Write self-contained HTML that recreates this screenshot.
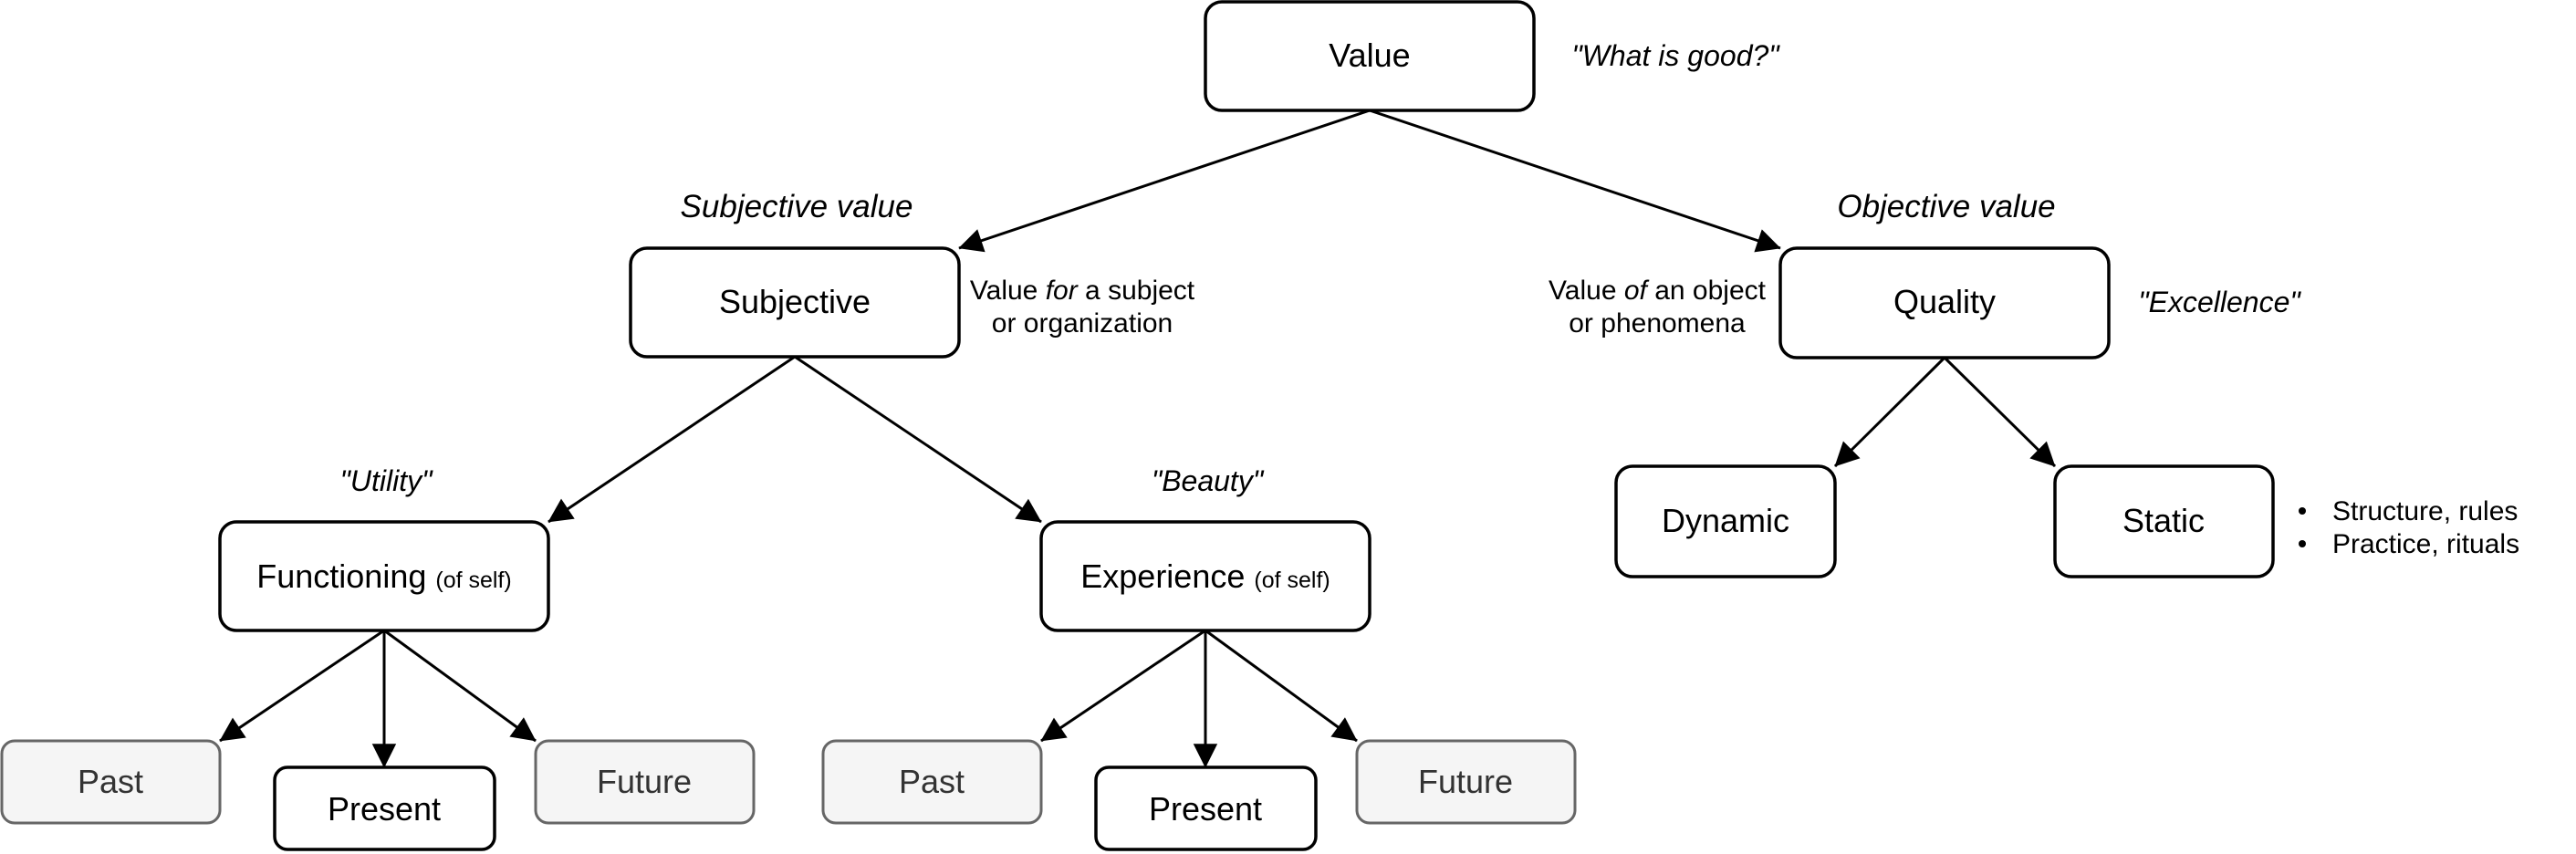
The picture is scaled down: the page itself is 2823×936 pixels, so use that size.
<!DOCTYPE html>
<html><head><meta charset="utf-8"><style>
html,body{margin:0;padding:0;background:#fff;}
svg{display:block;}
text{font-family:"Liberation Sans",Arial,sans-serif;}
</style></head><body>
<svg width="2823" height="936" viewBox="0 0 2823 936" xmlns="http://www.w3.org/2000/svg">
<defs>
<marker id="a" viewBox="0 0 10 10" refX="9" refY="5" markerWidth="11" markerHeight="11" markerUnits="userSpaceOnUse" orient="auto" overflow="visible">
<path d="M0,0 L10,5 L0,10 z" fill="#000" transform="scale(2.4) translate(-6,-2.9)"/>
</marker>
</defs>
<g stroke="#000" stroke-width="3" fill="none">
<line x1="1501" y1="121" x2="1051" y2="272" marker-end="url(#a)"/>
<line x1="1501" y1="121" x2="1951" y2="272" marker-end="url(#a)"/>
<line x1="871" y1="391" x2="601" y2="572" marker-end="url(#a)"/>
<line x1="871" y1="391" x2="1141" y2="572" marker-end="url(#a)"/>
<line x1="2131" y1="392" x2="2011" y2="511" marker-end="url(#a)"/>
<line x1="2131" y1="392" x2="2252" y2="511" marker-end="url(#a)"/>
<line x1="421" y1="691" x2="241" y2="812" marker-end="url(#a)"/>
<line x1="421" y1="691" x2="421" y2="841" marker-end="url(#a)"/>
<line x1="421" y1="691" x2="587" y2="812" marker-end="url(#a)"/>
<line x1="1321" y1="691" x2="1141" y2="812" marker-end="url(#a)"/>
<line x1="1321" y1="691" x2="1321" y2="841" marker-end="url(#a)"/>
<line x1="1321" y1="691" x2="1487" y2="812" marker-end="url(#a)"/>
</g>
<g stroke="#000" stroke-width="3.5" fill="#fff">
<rect x="1321" y="2" width="360" height="119" rx="18"/>
<rect x="691" y="272" width="360" height="119" rx="18"/>
<rect x="1951" y="272" width="360" height="120" rx="18"/>
<rect x="241" y="572" width="360" height="119" rx="18"/>
<rect x="1141" y="572" width="360" height="119" rx="18"/>
<rect x="1771" y="511" width="240" height="121" rx="18"/>
<rect x="2252" y="511" width="239" height="121" rx="18"/>
<rect x="301" y="841" width="241" height="90" rx="14"/>
<rect x="1201" y="841" width="241" height="90" rx="14"/>
</g>
<g stroke="#666" stroke-width="3" fill="#f5f5f5">
<rect x="2" y="812" width="239" height="90" rx="14"/>
<rect x="587" y="812" width="239" height="90" rx="14"/>
<rect x="902" y="812" width="239" height="90" rx="14"/>
<rect x="1487" y="812" width="239" height="90" rx="14"/>
</g>
<g font-size="36" text-anchor="middle" fill="#000">
<text x="1501" y="73">Value</text>
<text x="871" y="343">Subjective</text>
<text x="2131" y="343">Quality</text>
<text x="421" y="644">Functioning <tspan font-size="25">(of self)</tspan></text>
<text x="1321" y="644">Experience <tspan font-size="25">(of self)</tspan></text>
<text x="1891" y="583">Dynamic</text>
<text x="2371" y="583">Static</text>
<text x="421" y="899">Present</text>
<text x="1321" y="899">Present</text>
</g>
<g font-size="36" text-anchor="middle" fill="#333">
<text x="121" y="869">Past</text>
<text x="706" y="869">Future</text>
<text x="1021" y="869">Past</text>
<text x="1606" y="869">Future</text>
</g>
<g font-size="35" text-anchor="middle" font-style="italic" fill="#000">
<text x="873" y="238">Subjective value</text>
<text x="2133" y="238">Objective value</text>
</g>
<g font-size="32" font-style="italic" fill="#000" text-anchor="middle">
<text x="1836" y="72">"What is good?"</text>
<text x="2432" y="342">"Excellence"</text>
<text x="423" y="538">"Utility"</text>
<text x="1323" y="538">"Beauty"</text>
</g>
<g font-size="30" fill="#000" text-anchor="middle">
<text x="1186" y="328">Value <tspan font-style="italic">for</tspan> a subject</text>
<text x="1186" y="364">or organization</text>
<text x="1816" y="328">Value <tspan font-style="italic">of</tspan> an object</text>
<text x="1816" y="364">or phenomena</text>
</g>
<g font-size="30" fill="#000">
<circle cx="2523" cy="560" r="4"/>
<circle cx="2523" cy="596" r="4"/>
<text x="2556" y="570">Structure, rules</text>
<text x="2556" y="606">Practice, rituals</text>
</g>
</svg>
</body></html>
